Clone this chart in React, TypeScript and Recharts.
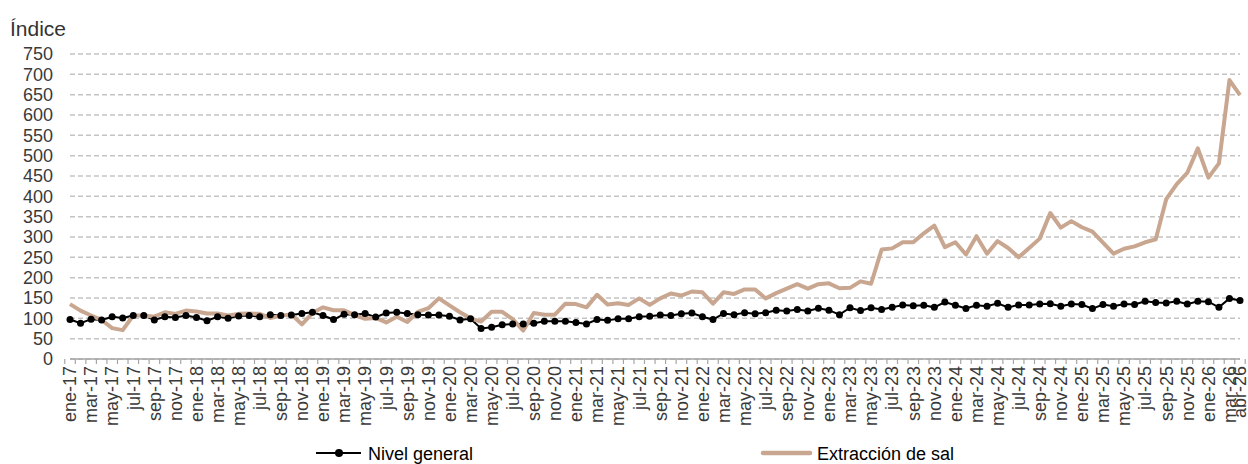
import { LineChart, Line, XAxis, YAxis, CartesianGrid, Legend } from "recharts";

const MONTHS = ["ene", "feb", "mar", "abr", "may", "jun", "jul", "ago", "sep", "oct", "nov", "dic"];
const YEARS = ["17", "18", "19", "20", "21", "22", "23", "24", "25", "26"];

// ene-17 .. abr-26, monthly
const categories: string[] = YEARS.flatMap((yy) => MONTHS.map((m) => `${m}-${yy}`)).slice(0, 112);

const nivelGeneral = [
  97, 88, 98, 96, 104, 101, 107, 107, 96, 104, 102, 107,
  102, 94, 104, 100, 106, 107, 104, 109, 107, 108, 112, 115,
  107, 97, 110, 109, 112, 103, 113, 115, 112, 109, 108, 108,
  105, 96, 99, 75, 78, 84, 86, 86, 88, 93, 93, 93,
  90, 86, 97, 95, 99, 99, 104, 105, 108, 107, 111, 113,
  104, 97, 112, 109, 114, 111, 114, 120, 118, 122, 118, 125,
  120, 109, 126, 119, 126, 122, 127, 133, 131, 132, 127, 140,
  132, 124, 132, 130, 137, 127, 133, 133, 135, 136, 130, 135,
  134, 124, 134, 130, 135, 134, 142, 139, 138, 142, 135, 142,
  141, 127, 149, 144,
];

const extraccionSal = [
  135, 119, 107, 96, 76, 71, 107, 107, 104, 115, 111, 119,
  117, 112, 112, 107, 111, 112, 111, 101, 106, 110, 85, 113,
  127, 120, 120, 108, 99, 101, 90, 104, 91, 116, 125, 149,
  132, 115, 100, 92, 116, 116, 98, 70, 113, 109, 109, 136,
  135, 127, 158, 134, 137, 133, 149, 133, 149, 161, 156, 166,
  164, 136, 164, 160, 171, 171, 149, 162, 173, 184, 173, 184,
  186, 174, 175, 191, 185, 269, 272, 287, 287, 309, 328, 275,
  287, 257, 302, 259, 290, 273, 250, 273, 296, 359, 323, 339,
  324, 313, 286, 259, 271, 277, 287, 294, 393, 430, 458, 518,
  446, 481, 686, 649,
];

const yTicks = [0, 50, 100, 150, 200, 250, 300, 350, 400, 450, 500, 550, 600, 650, 700, 750];

const data = categories.map((mes, i) => ({
  mes,
  "Nivel general": nivelGeneral[i],
  "Extracción de sal": extraccionSal[i],
}));

const BROWN = "#c8a690";
const AXIS_GRAY = "#a6a6a6";
const PLOT_W = 1170;
const BAND = PLOT_W / categories.length;

function MonthTick(props: any) {
  const { x, y, payload, index } = props;
  const i = typeof index === "number" ? index : categories.indexOf(payload.value);
  const last = i === categories.length - 1;
  const show = i % 2 === 0 || last;
  return (
    <g>
      <line x1={x - BAND / 2} x2={x - BAND / 2} y1={y} y2={y + 5} stroke={AXIS_GRAY} strokeWidth={1.2} />
      {last && <line x1={x + BAND / 2} x2={x + BAND / 2} y1={y} y2={y + 5} stroke={AXIS_GRAY} strokeWidth={1.2} />}
      {show && (
        <text
          transform={`translate(${x},${y + 7}) rotate(-90)`}
          textAnchor="end"
          dy="0.35em"
          fontSize={18}
          fill="#3a3a3a"
        >
          {payload.value}
        </text>
      )}
    </g>
  );
}

function LegendContent() {
  return (
    <svg width={1248} height={24} style={{ display: "block" }}>
      <line x1={316} x2={361} y1={12} y2={12} stroke="#000" strokeWidth={2} />
      <circle cx={339} cy={12} r={4} fill="#000" />
      <text x={368} y={19} fontSize={18} fill="#000">Nivel general</text>
      <line x1={763} x2={810} y1={12} y2={12} stroke={BROWN} strokeWidth={4.5} strokeLinecap="round" />
      <text x={817} y={19} fontSize={18} fill="#000">Extracción de sal</text>
    </svg>
  );
}

export default function App() {
  return (
    <div
      style={{
        position: "absolute",
        left: 0,
        top: 0,
        width: 1248,
        height: 464,
        background: "#fff",
        fontFamily: "'Liberation Sans', Arial, sans-serif",
      }}
    >
      <LineChart width={1248} height={464} data={data} margin={{ top: 54, right: 8, left: 0, bottom: 0 }}>
        <CartesianGrid vertical={false} stroke="#c4c4c4" strokeDasharray="5 3" strokeWidth={1.5} />
        <XAxis
          dataKey="mes"
          interval={0}
          height={81}
          tickLine={false}
          tickSize={0}
          tickMargin={0}
          axisLine={{ stroke: AXIS_GRAY, strokeWidth: 1.5 }}
          tick={<MonthTick />}
        />
        <YAxis
          width={70}
          domain={[0, 750]}
          ticks={yTicks}
          interval={0}
          tickLine={false}
          axisLine={false}
          tickSize={0}
          tickMargin={17}
          tick={{ fontSize: 18, fill: "#3a3a3a" }}
          label={{
            content: () => (
              <text x={10} y={36} fontSize={21} fill="#333">
                Índice
              </text>
            ),
          }}
        />
        <Legend
          verticalAlign="bottom"
          height={24}
          content={<LegendContent />}
          wrapperStyle={{ left: 0, top: 441, width: 1248, height: 24 }}
        />

        {/* Nivel general (black, with dots) */}
        <Line
          type="linear"
          dataKey="Nivel general"
          stroke="#000"
          strokeWidth={2}
          dot={{ r: 3.5, fill: "#000", stroke: "#000", strokeWidth: 0 }}
          activeDot={false}
          isAnimationActive={false}
        />

        {/* Extracción de sal (brown, thick) */}
        <Line
          type="linear"
          dataKey="Extracción de sal"
          stroke={BROWN}
          strokeWidth={4}
          strokeLinejoin="round"
          dot={false}
          activeDot={false}
          isAnimationActive={false}
        />
      </LineChart>
    </div>
  );
}
